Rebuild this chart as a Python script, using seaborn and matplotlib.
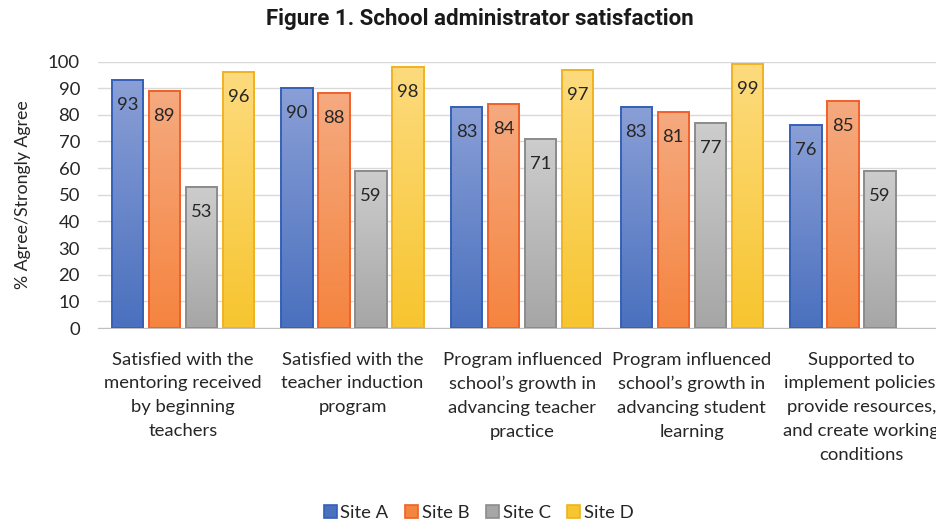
import numpy as np
import pandas as pd
import matplotlib.pyplot as plt
import seaborn as sns
from matplotlib.colors import LinearSegmentedColormap
from matplotlib.patches import Patch

categories = [
    "Satisfied with the\nmentoring received\nby beginning\nteachers",
    "Satisfied with the\nteacher induction\nprogram",
    "Program influenced\nschool\u2019s growth in\nadvancing teacher\npractice",
    "Program influenced\nschool\u2019s growth in\nadvancing student\nlearning",
    "Supported to\nimplement policies,\nprovide resources,\nand create working\nconditions",
]
sites = ["Site A", "Site B", "Site C", "Site D"]
site_a = [93, 90, 83, 83, 76]
site_b = [89, 88, 84, 81, 85]
site_c = [53, 59, 71, 77, 59]
site_d = [96, 98, 97, 99, np.nan]

# gradient (top, bottom) and edge colours per site
tops = ["#8a9fd6", "#f5aa80", "#cdcdcd", "#fddb7e"]
bottoms = ["#4a70be", "#f5843f", "#a6a6a6", "#f7c52f"]
edges = ["#3560b8", "#f1602a", "#8c8c8c", "#f1b21f"]

df = pd.DataFrame({"category": categories, "Site A": site_a, "Site B": site_b,
                   "Site C": site_c, "Site D": site_d})
df = df.melt(id_vars="category", var_name="site", value_name="value").dropna()

sns.set_style("white")
plt.rcParams["font.family"] = ["Lato", "DejaVu Sans"]
text_col = "#262626"

fig = plt.figure(figsize=(9.37, 5.24), dpi=100)
ax = fig.add_axes([0.1046, 0.374, 1 - 0.1046, 0.5086])

sns.barplot(data=df, x="category", y="value", hue="site", order=categories,
            hue_order=sites, palette=bottoms, width=0.872, gap=0.16,
            errorbar=None, legend=False, ax=ax)

for i, cont in enumerate(ax.containers):
    cmap = LinearSegmentedColormap.from_list(sites[i], [tops[i], bottoms[i]])
    grad = np.linspace(0, 1, 256).reshape(-1, 1)
    for p in cont.patches:
        x, w, h = p.get_x(), p.get_width(), p.get_height()
        if np.isnan(h):
            continue
        ax.imshow(grad, cmap=cmap, extent=[x, x + w, 0, h], aspect="auto",
                  zorder=2, interpolation="bilinear")
        p.set_facecolor("none")
        p.set_edgecolor(edges[i])
        p.set_linewidth(1.4)
        p.set_zorder(3)
        ax.annotate(f"{h:.0f}", (x + w / 2, h), xytext=(0, -18),
                    textcoords="offset points", ha="center", va="center",
                    fontsize=13.3, color=text_col, zorder=4)

ax.set_xlim(-0.5, 4.445)
ax.set_ylim(0, 100)
ax.set_yticks(range(0, 101, 10))
ax.yaxis.grid(True, color="#d9d9d9", linewidth=1)
ax.set_axisbelow(True)
for s in ["top", "right", "left"]:
    ax.spines[s].set_visible(False)
ax.spines["bottom"].set_color("#bfbfbf")
ax.tick_params(axis="both", length=0, labelsize=13.3, colors=text_col)
ax.tick_params(axis="y", pad=13)
ax.tick_params(axis="x", pad=17)
ax.set_xlabel("")
ax.set_ylabel("% Agree/Strongly Agree", fontsize=12.8, color=text_col, labelpad=12)
for lbl in ax.get_xticklabels():
    lbl.set_linespacing(1.6)

handles = [Patch(facecolor=bottoms[i], edgecolor=edges[i], linewidth=1.2) for i in range(4)]
fig.legend(handles, sites, loc="center", bbox_to_anchor=(0.511, 0.021), ncol=4,
           frameon=False, fontsize=13.3, handlelength=0.7, handleheight=0.7,
           handletextpad=0.2, columnspacing=0.9, labelcolor=text_col)

fig.suptitle("Figure 1. School administrator satisfaction", x=0.512, y=0.985,
             fontsize=16, fontweight="bold", family=["Roboto", "DejaVu Sans"],
             color="#1a1a1a")

fig.savefig("out.png", dpi=100)
